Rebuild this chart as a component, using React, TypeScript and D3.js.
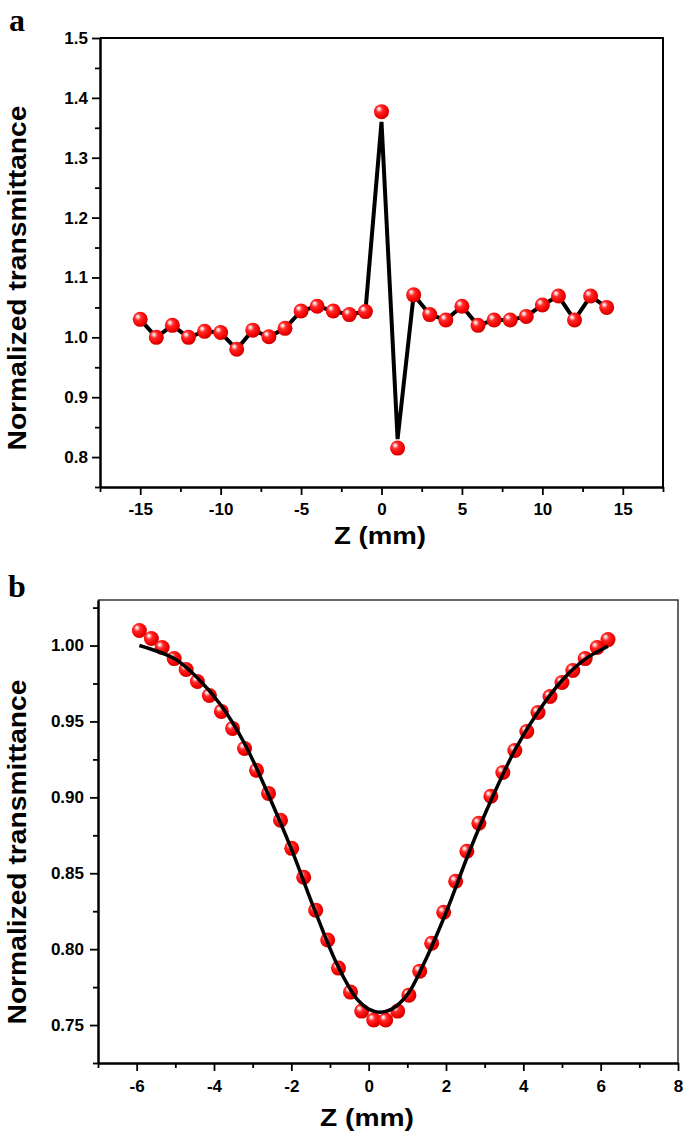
import { useEffect, useRef } from "react";
import * as d3 from "d3";

// panel a: open/closed aperture scan, z in mm
const aZ = [-15, -14, -13, -12, -11, -10, -9, -8, -7, -6, -5, -4, -3, -2, -1, 0, 1, 2, 3, 4, 5, 6, 7, 8, 9, 10, 11, 12, 13, 14];
const aT = [1.03, 1.0, 1.02, 1.0, 1.01, 1.008, 0.98, 1.012, 1.001, 1.015, 1.044, 1.052, 1.044, 1.038, 1.043, 1.377, 0.815, 1.071, 1.038, 1.029, 1.052, 1.02, 1.029, 1.029, 1.035, 1.054, 1.069, 1.029, 1.069, 1.05];
// the connecting line stops a little short of the two extreme points
const aLineT = [1.03, 1.0, 1.02, 1.0, 1.01, 1.008, 0.98, 1.012, 1.001, 1.015, 1.044, 1.052, 1.044, 1.038, 1.043, 1.36, 0.83, 1.071, 1.038, 1.029, 1.052, 1.02, 1.029, 1.029, 1.035, 1.054, 1.069, 1.029, 1.069, 1.05];
const aXTicks = [-15, -10, -5, 0, 5, 10, 15];
const aYTicks = [0.8, 0.9, 1.0, 1.1, 1.2, 1.3, 1.4, 1.5];

// panel b: measured points + fit
const bZ = [-5.93, -5.62, -5.34, -5.03, -4.72, -4.43, -4.12, -3.81, -3.52, -3.21, -2.9, -2.59, -2.28, -1.99, -1.68, -1.37, -1.06, -0.78, -0.47, -0.18, 0.13, 0.44, 0.75, 1.04, 1.32, 1.63, 1.94, 2.25, 2.54, 2.85, 3.16, 3.47, 3.78, 4.09, 4.38, 4.69, 5.0, 5.28, 5.6, 5.91, 6.19];
const bT = [1.0099, 1.0046, 0.9987, 0.9914, 0.9842, 0.9763, 0.9671, 0.9566, 0.9454, 0.9322, 0.9178, 0.9026, 0.8849, 0.8664, 0.8474, 0.8257, 0.806, 0.7875, 0.7717, 0.7592, 0.7533, 0.7533, 0.7592, 0.7697, 0.7855, 0.8039, 0.8243, 0.8447, 0.8645, 0.8829, 0.9007, 0.9164, 0.9309, 0.9434, 0.9559, 0.9664, 0.9757, 0.9836, 0.9914, 0.9987, 1.0039];
const fitZ = [-5.93, -5.0, -4.4, -3.8, -3.2, -2.6, -2.0, -1.4, -0.8, -0.3, 0.0, 0.28, 0.6, 1.0, 1.4, 2.0, 2.6, 3.2, 3.8, 4.4, 5.0, 5.6, 6.19];
const fitT = [1.0, 0.991, 0.978, 0.96, 0.935, 0.902, 0.866, 0.826, 0.789, 0.767, 0.7605, 0.7585, 0.7605, 0.77, 0.789, 0.824, 0.864, 0.9, 0.932, 0.957, 0.977, 0.991, 0.9995];
const bXTicks = [-6, -4, -2, 0, 2, 4, 6, 8];
const bYTicks = [0.75, 0.8, 0.85, 0.9, 0.95, 1.0];

const W = 685;
const H = 1137;
const FONT = "'Liberation Sans', Arial, sans-serif";

export default function App() {
  const svgRef = useRef<SVGSVGElement>(null);

  useEffect(() => {
    if (!svgRef.current) return;
    const svg = d3.select(svgRef.current);
    svg.selectAll("*").remove();

    const defs = svg.append("defs");
    const grad = defs
      .append("radialGradient")
      .attr("id", "ball")
      .attr("cx", "0.42")
      .attr("cy", "0.42")
      .attr("r", "0.62")
      .attr("fx", "0.32")
      .attr("fy", "0.3");
    [
      [0, "#ffffff"],
      [0.12, "#ffd0d0"],
      [0.35, "#ff2a2a"],
      [0.75, "#f50000"],
      [1, "#c00000"],
    ].forEach(([o, c]) => grad.append("stop").attr("offset", o as number).attr("stop-color", c as string));

    const drawPanel = (opts: {
      x: d3.ScaleLinear<number, number>;
      y: d3.ScaleLinear<number, number>;
      xTicks: number[];
      yTicks: number[];
      xMinor: number[];
      yMinor: number[];
      yFmt: (d: number) => string;
      frameColor: string;
      frameWidth: number;
      xPad: number;
      yPad: number;
    }) => {
      const { x, y } = opts;
      const [x0, x1] = x.range();
      const [y0, y1] = y.range();
      const g = svg.append("g");

      // top + right of the frame
      g.append("path")
        .attr("d", `M${x0},${y1}H${x1}V${y0}`)
        .attr("fill", "none")
        .attr("stroke", opts.frameColor)
        .attr("stroke-width", opts.frameWidth);

      const styleAxis = (sel: d3.Selection<SVGGElement, unknown, null, undefined>) => {
        sel.select(".domain").attr("stroke-width", 2).attr("stroke", "#000");
        sel.selectAll(".tick line").attr("stroke-width", 1.8).attr("stroke", "#000");
        sel
          .selectAll("text")
          .attr("font-family", FONT)
          .attr("font-weight", "bold")
          .attr("font-size", 17)
          .attr("fill", "#000");
      };

      // minor ticks first
      g.append("g")
        .attr("transform", `translate(0,${y0})`)
        .call(d3.axisBottom(x).tickValues(opts.xMinor).tickSize(5).tickFormat(() => "").tickSizeOuter(0))
        .call(styleAxis);
      g.append("g")
        .attr("transform", `translate(${x0},0)`)
        .call(d3.axisLeft(y).tickValues(opts.yMinor).tickSize(5).tickFormat(() => "").tickSizeOuter(0))
        .call(styleAxis);

      g.append("g")
        .attr("transform", `translate(0,${y0})`)
        .call(d3.axisBottom(x).tickValues(opts.xTicks).tickSize(8).tickPadding(opts.xPad).tickSizeOuter(0).tickFormat((d) => String(d)))
        .call(styleAxis);
      g.append("g")
        .attr("transform", `translate(${x0},0)`)
        .call(d3.axisLeft(y).tickValues(opts.yTicks).tickSize(8).tickPadding(opts.yPad).tickSizeOuter(0).tickFormat((d) => opts.yFmt(d as number)))
        .call(styleAxis);
      return g;
    };

    const text = (t: string, x: number, y: number, size: number, len: number, rotate = false) =>
      svg
        .append("text")
        .attr("transform", `translate(${x},${y})${rotate ? " rotate(-90)" : ""}`)
        .attr("text-anchor", "middle")
        .attr("font-family", FONT)
        .attr("font-weight", "bold")
        .attr("font-size", size)
        .attr("textLength", len)
        .attr("lengthAdjust", "spacingAndGlyphs")
        .attr("fill", "#000")
        .text(t);

    const letter = (t: string, x: number, y: number) =>
      svg
        .append("text")
        .attr("x", x)
        .attr("y", y)
        .attr("font-family", "'Liberation Serif', 'Times New Roman', serif")
        .attr("font-weight", "bold")
        .attr("font-size", 32)
        .attr("fill", "#000")
        .text(t);

    const balls = (g: d3.Selection<SVGGElement, unknown, null, undefined>, pts: [number, number][]) =>
      g
        .selectAll("circle.pt")
        .data(pts)
        .enter()
        .append("circle")
        .attr("class", "pt")
        .attr("cx", (d) => d[0])
        .attr("cy", (d) => d[1])
        .attr("r", 7.5)
        .attr("fill", "url(#ball)");

    // ---- panel a
    const xa = d3.scaleLinear().domain([-17.5, 17.5]).range([100, 663]);
    const ya = d3.scaleLinear().domain([0.75, 1.5]).range([487, 38]);
    const ga = drawPanel({
      x: xa,
      y: ya,
      xTicks: aXTicks,
      yTicks: aYTicks,
      xMinor: aXTicks.map((d) => d - 2.5).concat([17.5]),
      yMinor: aYTicks.map((d) => d - 0.05),
      yFmt: d3.format(".1f"),
      frameColor: "#000",
      frameWidth: 2,
      xPad: 8,
      yPad: 4,
    });
    ga.append("path")
      .datum(aZ.map((z, i) => [z, aLineT[i]] as [number, number]))
      .attr("fill", "none")
      .attr("stroke", "#000")
      .attr("stroke-width", 4)
      .attr("stroke-linejoin", "bevel")
      .attr("d", d3.line<[number, number]>().x((d) => xa(d[0])).y((d) => ya(d[1])));
    balls(ga, aZ.map((z, i) => [xa(z), ya(aT[i])]));

    text("Normalized transmittance", 26, 278, 25, 345, true);
    text("Z (mm)", 380, 544, 24, 92);
    letter("a", 9, 31);

    // ---- panel b
    const xb = d3.scaleLinear().domain([-7, 8]).range([98, 678]);
    const yb = d3.scaleLinear().domain([0.725, 1.03]).range([1063, 600]);
    const gb = drawPanel({
      x: xb,
      y: yb,
      xTicks: bXTicks,
      yTicks: bYTicks,
      xMinor: bXTicks.map((d) => d - 1),
      yMinor: bYTicks.map((d) => d - 0.025).concat([1.025]),
      yFmt: d3.format(".2f"),
      frameColor: "#333",
      frameWidth: 1.5,
      xPad: 9,
      yPad: 6,
    });
    balls(gb, bZ.map((z, i) => [xb(z), yb(bT[i])]));
    gb.append("path")
      .datum(fitZ.map((z, i) => [z, fitT[i]] as [number, number]))
      .attr("fill", "none")
      .attr("stroke", "#000")
      .attr("stroke-width", 3.5)
      .attr("d", d3.line<[number, number]>().x((d) => xb(d[0])).y((d) => yb(d[1])).curve(d3.curveCatmullRom));

    text("Normalized transmittance", 26, 852, 25, 345, true);
    text("Z (mm)", 367, 1126, 24, 94);
    letter("b", 8, 597);
  }, []);

  return (
    <div style={{ position: "absolute", left: 0, top: 0, background: "#fff" }}>
      <svg ref={svgRef} width={W} height={H} style={{ display: "block" }} />
    </div>
  );
}
